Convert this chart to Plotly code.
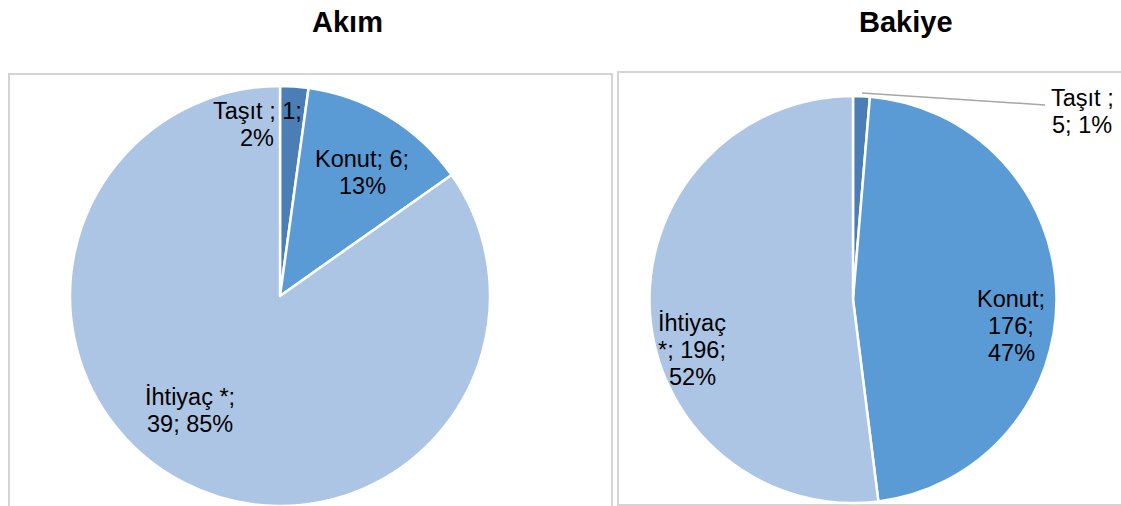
import plotly.graph_objects as go

# ---- data ----
categories = ["Taşıt", "Konut", "İhtiyaç"]
akim_values = [1, 6, 39]
bakiye_values = [5, 176, 196]
titles = ["Akım", "Bakiye"]

# ---- style ----
W, H = 1121, 506
colors = ["#4A7EB5", "#5B9BD5", "#ADC5E5"]
FONT = "Liberation Sans, Arial, sans-serif"
LABEL_SIZE = 23.5
TITLE_SIZE = 29
LINE_H = 27


def px(x):
    return x / W


def py(y):
    return 1 - y / H


def pct(vals):
    t = sum(vals)
    return [round(v / t * 100) for v in vals]


fig = go.Figure()

# pie domains (pixels: left, right, top, bottom)
doms = [(69, 491, 86, 506), (649.5, 1056.5, 96, 503)]
for vals, (l, r, t, b) in zip([akim_values, bakiye_values], doms):
    fig.add_trace(go.Pie(
        labels=categories, values=vals, sort=False, direction="clockwise",
        rotation=0, marker=dict(colors=colors, line=dict(color="white", width=2.5)),
        textinfo="none", hoverinfo="label+value+percent", showlegend=False,
        domain=dict(x=[px(l), px(r)], y=[py(b), py(t)]),
    ))

shapes = [
    dict(type="rect", xref="paper", yref="paper", x0=px(9), x1=px(612), y0=py(520), y1=py(74),
         line=dict(color="#D4D4D4", width=2), fillcolor="rgba(0,0,0,0)", layer="below"),
    dict(type="rect", xref="paper", yref="paper", x0=px(618), x1=px(1130), y0=py(505), y1=py(72),
         line=dict(color="#D4D4D4", width=2), fillcolor="rgba(0,0,0,0)", layer="below"),
    # leader line for small slice of right pie
    dict(type="line", xref="paper", yref="paper", x0=px(862), y0=py(93), x1=px(1045), y1=py(105),
         line=dict(color="#A6A6A6", width=1.5)),
]

ap = pct(akim_values)
bp = pct(bakiye_values)
label_lines = [
    # (lines, center x, center y)
    ([f"{categories[0]} ; {akim_values[0]};", f"{ap[0]}%"], 257, 124.5),
    ([f"{categories[1]}; {akim_values[1]};", f"{ap[1]}%"], 362, 172),
    ([f"{categories[2]} *;", f"{akim_values[2]}; {ap[2]}%"], 190, 410.5),
    ([f"{categories[0]} ;", f"{bakiye_values[0]}; {bp[0]}%"], 1082, 111.5),
    ([f"{categories[1]};", f"{bakiye_values[1]};", f"{bp[1]}%"], 1011, 326),
    ([f"{categories[2]}", f"*; {bakiye_values[2]};", f"{bp[2]}%"], 692, 350),
]

annotations = []
for lines, x, y in label_lines:
    n = len(lines)
    for i, ln in enumerate(lines):
        yy = y + (i - (n - 1) / 2) * LINE_H
        annotations.append(dict(text=ln, x=px(x), y=py(yy), xref="paper", yref="paper",
                                xanchor="center", yanchor="middle", showarrow=False,
                                font=dict(family=FONT, size=LABEL_SIZE, color="#000000")))

for title, x in zip(titles, [348, 906]):
    annotations.append(dict(text=f"<b>{title}</b>", x=px(x), y=py(22), xref="paper", yref="paper",
                            xanchor="center", yanchor="middle", showarrow=False,
                            font=dict(family=FONT, size=TITLE_SIZE, color="#000000")))

fig.update_layout(
    width=W, height=H, margin=dict(l=0, r=0, t=0, b=0),
    paper_bgcolor="white", plot_bgcolor="white",
    shapes=shapes, annotations=annotations,
    font=dict(family=FONT),
)

fig.write_html("out.html", config={"displayModeBar": False},
               post_script="document.body.style.margin='0px';document.body.style.overflow='hidden';")
